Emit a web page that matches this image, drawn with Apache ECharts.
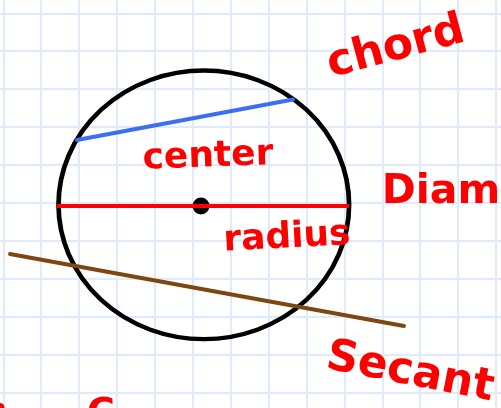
<!DOCTYPE html>
<html><head><meta charset="utf-8">
<script src="https://cdn.jsdelivr.net/npm/echarts@6/dist/echarts.min.js"></script>
<style>html,body{margin:0;padding:0;background:#fff}#c{width:501px;height:408px}</style>
</head><body><div id="c"></div>
<script>
// Paper coordinates: 1 unit = 1 px, origin at the first visible (top-left) grid line
const cellSize = 37.9;
const xCells = [-1, 14];
const yCells = [-1, 11];

const circleCenter = [200.5, 191.5];
const circleRadii = [145.3, 134.3];
const centerDot = [197.7, 192.7];
const diameterLine = [[53.7, 192.7], [345.7, 192.7]];
const chordLine = [[73.7, 126.7], [289.7, 86.2]];
const secantLine = [[6.7, 240.7], [400.7, 312.7]];
const cornerMark = [-3.3, 394.2];

const labelNames = ['chord', 'center', 'Diam', 'radius', 'Secant', 'C'];
const labelPos = [[392.7, 34.7], [204.7, 143.7], [437.7, 178.7], [283.7, 224.7], [406.7, 359.7], [97.7, 400.7]];
const labelRotate = [15, 2, 0, 3, -11, 0];
const labelSize = [44, 36, 41, 36, 44, 38];

const red = '#ff0000';
const chart = echarts.init(document.getElementById('c'));

const xMin = cellSize * xCells[0], xMax = cellSize * xCells[1];
const yMin = cellSize * yCells[0], yMax = cellSize * yCells[1];
const splitStyle = {show: true, lineStyle: {color: '#dfebfa', width: 2}};

chart.setOption({
  animation: false,
  backgroundColor: '#ffffff',
  grid: {left: 3.3 + xMin, top: 13.3 + yMin, width: xMax - xMin, height: yMax - yMin,
    containLabel: false, outerBoundsMode: 'none'},
  xAxis: {type: 'value', min: xMin, max: xMax, interval: cellSize,
    axisLine: {show: false}, axisTick: {show: false}, axisLabel: {show: false}, splitLine: splitStyle},
  yAxis: {type: 'value', inverse: true, min: yMin, max: yMax, interval: cellSize,
    axisLine: {show: false}, axisTick: {show: false}, axisLabel: {show: false}, splitLine: splitStyle},
  series: [
    {type: 'line', data: chordLine, clip: false, silent: true, symbol: 'none',
      lineStyle: {color: '#3b6ef3', width: 4, cap: 'round', opacity: 1}},
    {type: 'scatter', data: [circleCenter], clip: false, silent: true, symbol: 'circle',
      symbolSize: [circleRadii[0] * 2, circleRadii[1] * 2],
      itemStyle: {color: 'rgba(0,0,0,0)', borderColor: '#000', borderWidth: 4.5, opacity: 1}},
    {type: 'line', data: secantLine, clip: false, silent: true, symbol: 'none',
      lineStyle: {color: '#7d4810', width: 4, cap: 'round', opacity: 1}},
    {type: 'line', data: diameterLine, clip: false, silent: true, symbol: 'none',
      lineStyle: {color: red, width: 4, opacity: 1}},
    {type: 'scatter', data: [centerDot], clip: false, silent: true, symbolSize: 17,
      itemStyle: {color: '#000', opacity: 1}},
    {type: 'scatter', data: [cornerMark], clip: false, silent: true, symbolSize: 9,
      itemStyle: {color: red, opacity: 1}},
    {type: 'scatter', clip: false, silent: true, symbolSize: 0,
      itemStyle: {opacity: 1},
      data: labelNames.map((n, i) => ({
        value: labelPos[i], name: n,
        label: {show: true, position: 'inside', formatter: n, rotate: labelRotate[i],
          color: red, fontSize: labelSize[i], fontFamily: 'DejaVu Sans', fontWeight: 'bold',
          align: 'center', verticalAlign: 'middle', opacity: 1}
      }))}
  ]
});
</script></body></html>
